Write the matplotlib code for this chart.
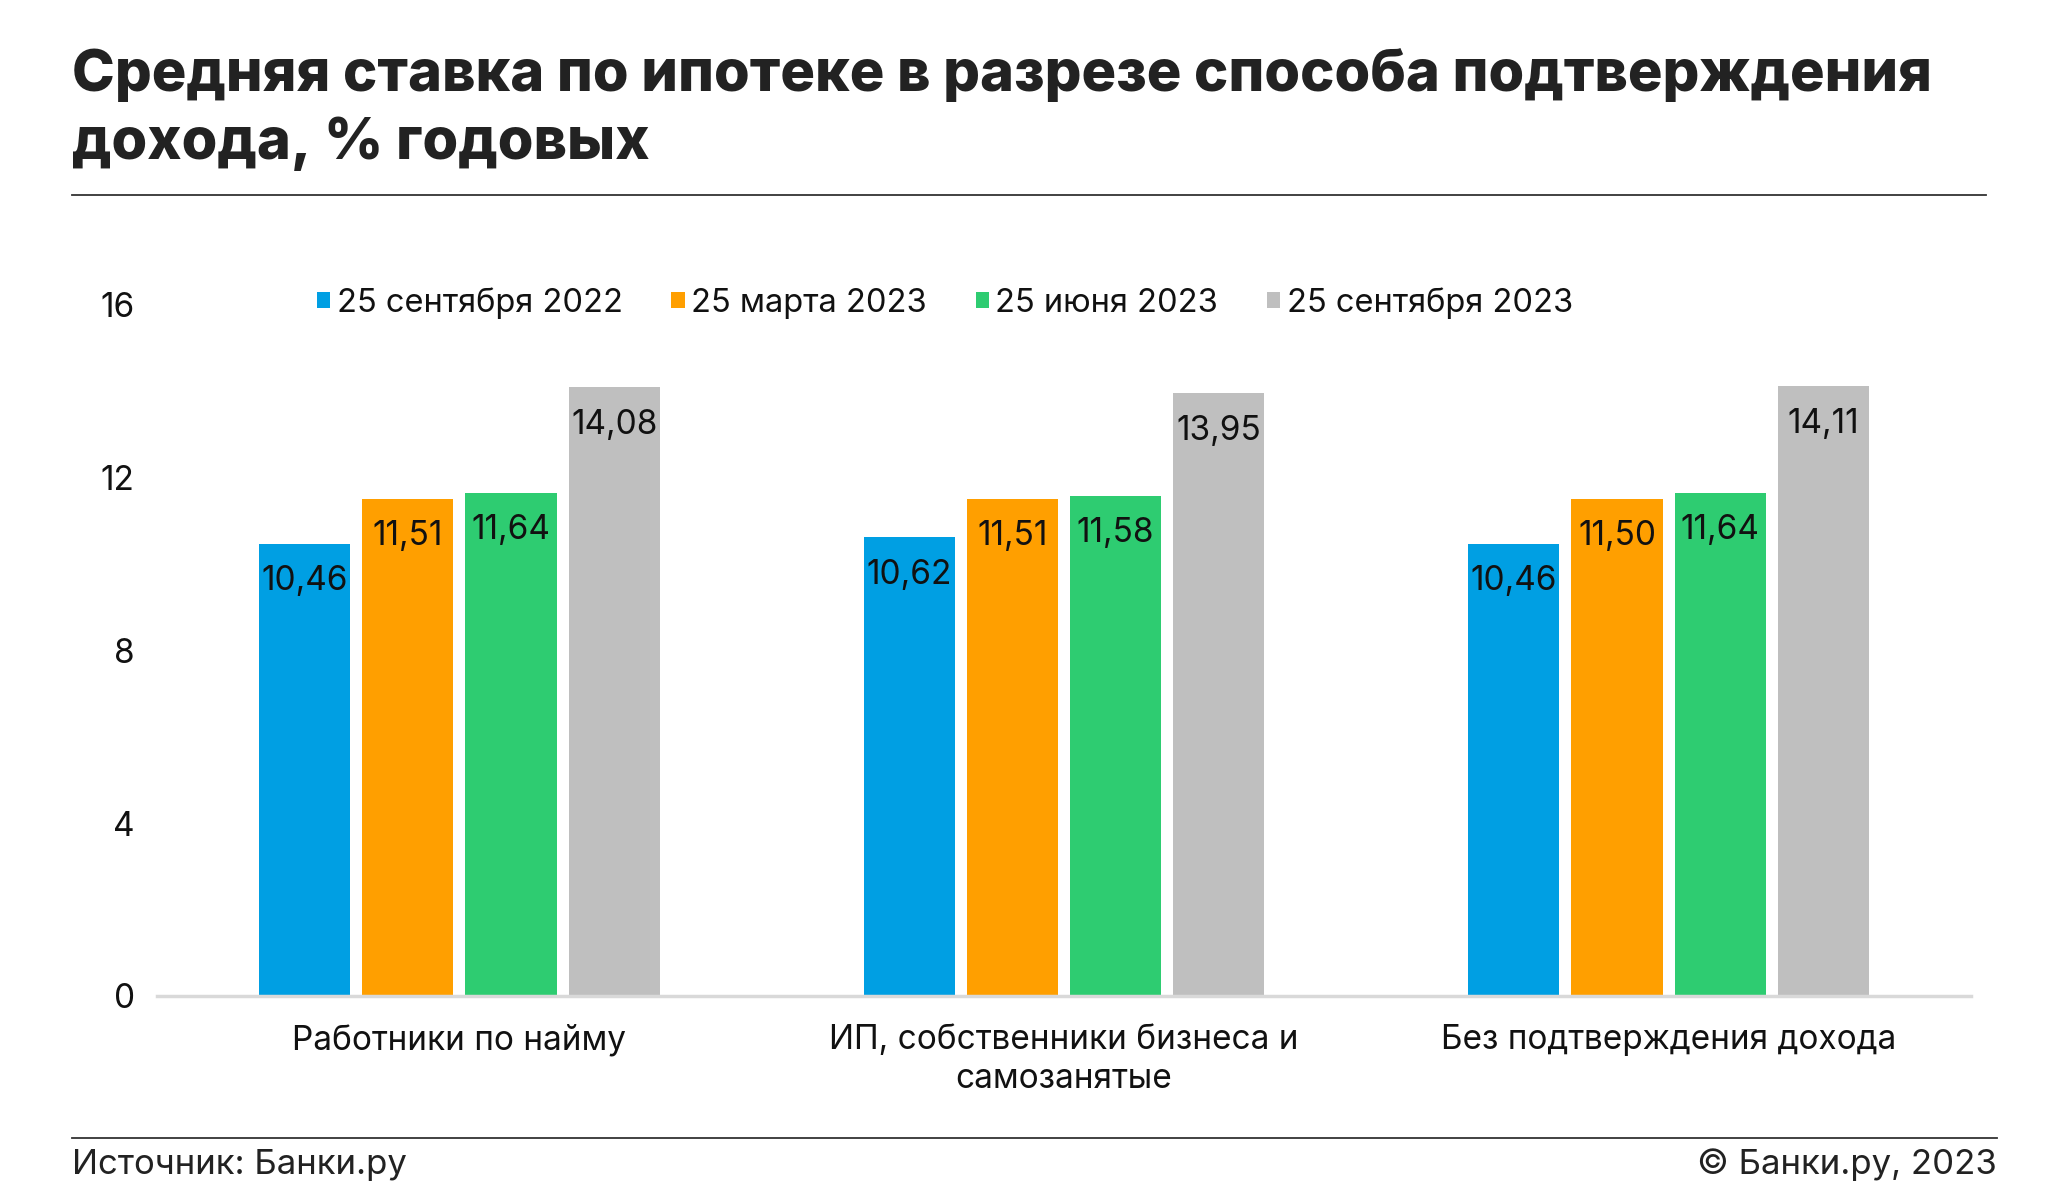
import numpy as np
import matplotlib.pyplot as plt
from matplotlib.patches import Rectangle
from matplotlib.lines import Line2D

# данные
categories = ["Работники по найму",
              "ИП, собственники бизнеса и\nсамозанятые",
              "Без подтверждения дохода"]
series_names = ["25 сентября 2022", "25 марта 2023", "25 июня 2023", "25 сентября 2023"]
sep_2022 = [10.46, 10.62, 10.46]
mar_2023 = [11.51, 11.51, 11.50]
jun_2023 = [11.64, 11.58, 11.64]
sep_2023 = [14.08, 13.95, 14.11]
colors = ["#009FE3", "#FF9F00", "#2ECC71", "#BFBFBF"]
y_ticks = [0, 4, 8, 12, 16]

plt.rcParams['font.family'] = ['Inter', 'DejaVu Sans']
W, H = 2049, 1200
fig = plt.figure(figsize=(W / 100, H / 100), dpi=100)

# заголовок
fig.text(72 / W, 1 - 91 / H, "Средняя ставка по ипотеке в разрезе способа подтверждения",
         fontsize=41.6, fontweight='heavy', color='#222222', va='baseline', ha='left')
fig.text(72 / W, 1 - 159 / H, "дохода, % годовых",
         fontsize=41.6, fontweight='heavy', color='#222222', va='baseline', ha='left')
fig.add_artist(Line2D([72 / W, 1986 / W], [1 - 195 / H, 1 - 195 / H], color='#333333', lw=1.3))

# подвал
fig.add_artist(Line2D([72 / W, 1997 / W], [1 - 1138 / H, 1 - 1138 / H], color='#333333', lw=1.3))
fig.text(72 / W, 1 - 1174 / H, "Источник: Банки.ру", fontsize=25, color='#222222',
         va='baseline', ha='left')
fig.text(1997 / W, 1 - 1174 / H, "© Банки.ру, 2023", fontsize=25, color='#222222',
         va='baseline', ha='right')

ax = fig.add_axes([157 / W, 1 - 996 / H, (1971 - 157) / W, (996 - 304.5) / H])
x = np.arange(len(categories))
step = 0.1707
width = 0.151
all_series = [sep_2022, mar_2023, jun_2023, sep_2023]
for i, (vals, c, name) in enumerate(zip(all_series, colors, series_names)):
    pos = x + (i - 1.5) * step
    bars = ax.bar(pos, vals, width, color=c, label=name, zorder=2)
    for b, v in zip(bars, vals):
        ax.annotate(f"{v:.2f}".replace('.', ','), (b.get_x() + b.get_width() / 2, v),
                    xytext=(0, -27), textcoords='offset points',
                    ha='center', va='center', fontsize=24, color='#111111')

ax.set_xlim(-0.5, 2.5)
ax.set_ylim(0, 16)
ax.set_yticks(y_ticks)
ax.set_yticklabels([str(t) for t in y_ticks], fontsize=24, color='#111111')
ax.set_xticks(x)
ax.set_xticklabels(categories, fontsize=24, color='#111111', linespacing=1.3)
ax.tick_params(axis='both', length=0)
ax.tick_params(axis='y', pad=16)
ax.tick_params(axis='x', pad=20)
for s in ['top', 'right', 'left']:
    ax.spines[s].set_visible(False)
ax.spines['bottom'].set_color('#D9D9D9')
ax.spines['bottom'].set_linewidth(2.5)

leg = ax.legend(loc='center', bbox_to_anchor=(945 / W, 1 - 303 / H),
                bbox_transform=fig.transFigure, ncol=4, frameon=False,
                fontsize=23.5, handlelength=0.4, handleheight=0.4,
                handletextpad=0.2, columnspacing=1.5)
for t in leg.get_texts():
    t.set_color('#111111')

fig.savefig("out.png", dpi=100)
